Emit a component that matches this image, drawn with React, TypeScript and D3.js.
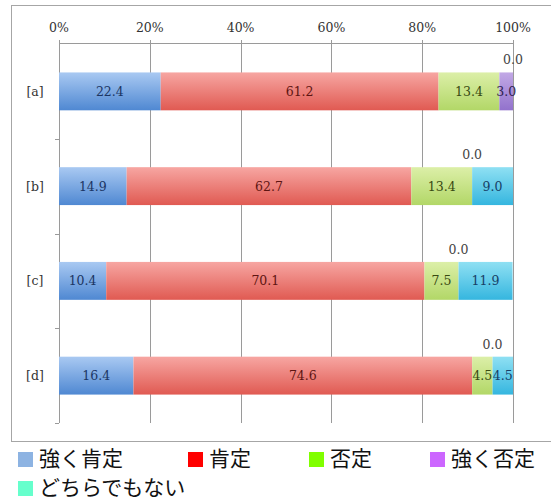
import * as d3 from 'd3';

const categories = ['[a]', '[b]', '[c]', '[d]'];
const seriesNames = ['強く肯定', '肯定', '否定', '強く否定', 'どちらでもない'];
const strongYes = [22.4, 14.9, 10.4, 16.4];
const yes = [61.2, 62.7, 70.1, 74.6];
const no = [13.4, 13.4, 7.5, 4.5];
const strongNo = [3.0, 0.0, 0.0, 0.0];
const neither = [0.0, 9.0, 11.9, 4.5];
const xTicks = [0, 20, 40, 60, 80, 100];

// bar fills (top, bottom), label colour, legend swatch
const barColors = [
  { top: '#a9c9f2', bottom: '#4f88d2', label: '#1b3563', legend: '#8db3e2' },
  { top: '#f7a6a2', bottom: '#e05a52', label: '#5e1512', legend: '#ff0000' },
  { top: '#dcefa8', bottom: '#b2d767', label: '#394a12', legend: '#80ff00' },
  { top: '#c2a9e6', bottom: '#9272cc', label: '#2e1f52', legend: '#cc66ff' },
  { top: '#8fe0f3', bottom: '#35b6df', label: '#173f66', legend: '#66ffcc' },
];

const W = 551;
const H = 503;
const margin = { left: 59, right: 38, top: 43, bottom: 81 };
const legendSlots = [
  { x: 18, y: 452 },
  { x: 188, y: 452 },
  { x: 309, y: 452 },
  { x: 430, y: 452 },
  { x: 18, y: 481 },
];

const serif = '"DejaVu Serif", "Liberation Serif", serif';
const sans = '"Noto Sans CJK JP", "Noto Sans", sans-serif';
const fs = 12.5;

export default function App() {
  const rows = categories.map((c, i) => ({
    cat: c,
    s0: strongYes[i],
    s1: yes[i],
    s2: no[i],
    s3: strongNo[i],
    s4: neither[i],
  }));
  const keys = ['s0', 's1', 's2', 's3', 's4'];
  const stacked = d3.stack<any>().keys(keys)(rows);

  const x = d3.scaleLinear().domain([0, 100]).range([margin.left, W - margin.right]);
  const y = d3
    .scaleBand()
    .domain(categories)
    .range([margin.top + 1, H - margin.bottom + 1])
    .paddingInner(0.6)
    .paddingOuter(0.3);
  const step = y.step();
  const bandTop = (c: string) => (y(c) as number) - y.paddingOuter() * step;
  const gridBottom = H - margin.bottom + 1;

  return (
    <svg
      width={W}
      height={H}
      style={{ position: 'absolute', left: 0, top: 0, background: '#fff' }}
    >
      <defs>
        {barColors.map((c, i) => (
          <linearGradient key={i} id={`g${i}`} x1="0" y1="0" x2="0" y2="1">
            <stop offset="0%" stopColor={c.top} />
            <stop offset="100%" stopColor={c.bottom} />
          </linearGradient>
        ))}
      </defs>

      {/* frame */}
      <rect x={11.5} y={5.5} width={560} height={436} fill="none" stroke="#a6a6a6" />

      {/* x grid + ticks */}
      {xTicks.map((t) => (
        <g key={t}>
          <line
            x1={Math.round(x(t)) + 0.5}
            x2={Math.round(x(t)) + 0.5}
            y1={margin.top - 3}
            y2={gridBottom}
            stroke="#9a9a9a"
          />
          <text
            x={x(t)}
            y={28}
            dy="0.35em"
            textAnchor="middle"
            fontFamily={serif}
            fontSize={fs}
            fill="#333"
          >
            {t}%
          </text>
        </g>
      ))}
      <line
        x1={margin.left}
        x2={x(100)}
        y1={margin.top + 0.5}
        y2={margin.top + 0.5}
        stroke="#9a9a9a"
      />

      {/* category ticks + labels */}
      {categories.map((c) => (
        <g key={c}>
          <line
            x1={margin.left - 4}
            x2={margin.left}
            y1={Math.round(bandTop(c) + step) + 0.5}
            y2={Math.round(bandTop(c) + step) + 0.5}
            stroke="#9a9a9a"
          />
          <text
            x={35}
            y={(y(c) as number) + y.bandwidth() / 2}
            dy="0.35em"
            textAnchor="middle"
            fontFamily={serif}
            fontSize={fs}
            fill="#333"
          >
            {c}
          </text>
        </g>
      ))}

      {/* bars */}
      {stacked.map((layer, si) => (
        <g key={layer.key}>
          {layer.map((d, ci) => {
            const cat = categories[ci];
            const w = x(d[1]) - x(d[0]);
            if (w <= 0) return null;
            return (
              <rect
                key={cat}
                x={x(d[0])}
                y={y(cat)}
                width={w}
                height={y.bandwidth()}
                fill={`url(#g${si})`}
              />
            );
          })}
        </g>
      ))}

      {/* value labels */}
      {stacked.map((layer, si) => (
        <g key={'l' + layer.key}>
          {layer.map((d, ci) => {
            const cat = categories[ci];
            const val = (rows[ci] as any)[layer.key] as number;
            if (val === 0) {
              return (
                <text
                  key={cat}
                  x={x(d[0])}
                  y={(y(cat) as number) - 8}
                  textAnchor="middle"
                  fontFamily={serif}
                  fontSize={fs}
                  fill="#444"
                >
                  {val.toFixed(1)}
                </text>
              );
            }
            return (
              <text
                key={cat}
                x={(x(d[0]) + x(d[1])) / 2}
                y={(y(cat) as number) + y.bandwidth() / 2}
                dy="0.35em"
                textAnchor="middle"
                fontFamily={serif}
                fontSize={fs}
                fill={barColors[si].label}
              >
                {val.toFixed(1)}
              </text>
            );
          })}
        </g>
      ))}

      {/* legend */}
      {seriesNames.map((name, i) => (
        <g key={name} transform={`translate(${legendSlots[i].x},${legendSlots[i].y})`}>
          <rect x={0} y={0} width={15} height={15} fill={barColors[i].legend} />
          <text
            x={21}
            y={7}
            dy="0.35em"
            fontFamily={sans}
            fontSize={21}
            fill="#111"
          >
            {name}
          </text>
        </g>
      ))}
    </svg>
  );
}
